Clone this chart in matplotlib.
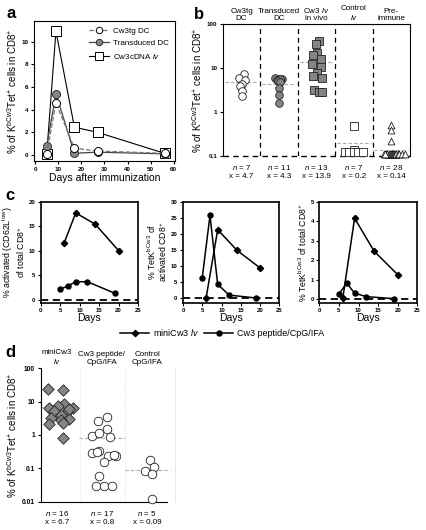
import matplotlib
matplotlib.use("Agg")
import matplotlib.pyplot as plt

plt.rcParams['font.family'] = ['Liberation Sans', 'DejaVu Sans']
plt.rcParams['mathtext.fontset'] = 'custom'
plt.rcParams['mathtext.rm'] = 'Liberation Sans'
plt.rcParams['mathtext.it'] = 'Liberation Sans:italic'
plt.rcParams['mathtext.bf'] = 'Liberation Sans:bold'

# ---- panel a: kinetics after immunization ----
days_a = [5, 9, 17, 27, 56]
cw3tg_dc = [0.1, 4.6, 0.6, 0.35, 0.15]
transduced_dc = [0.8, 5.4, 0.15, 0.25, 0.1]
cw3cdna_lv = [0.05, 10.9, 2.45, 2.0, 0.15]

# ---- panel b: groups ----
b_groups = ["Cw3tg\nDC", "Transduced\nDC", "Cw3 $\\mathit{lv}$\nin vivo", "Control\n$\\mathit{lv}$", "Pre-\nimmune"]
b_n = [7, 11, 13, 7, 28]
b_mean = [4.7, 4.3, 13.9, 0.2, 0.14]
b_cw3tg = [7.3, 5.8, 5.2, 4.3, 3.8, 3.05, 2.35]
b_transduced = [5.8, 5.7, 5.6, 5.3, 5.2, 5.5, 5.0, 4.9, 3.45, 2.47, 1.6]
b_cw3lv = [41.8, 35.1, 21.9, 19.8, 16.0, 10.4, 12.3, 7.7, 6.5, 5.84, 3.21, 2.8, 2.8]
b_control = [0.49, 0.14, 0.12, 0.12, 0.12, 0.12, 0.12]
b_preimmune = [0.5, 0.39, 0.22, 0.11, 0.11, 0.11, 0.11, 0.11, 0.11, 0.11, 0.11, 0.11,
               0.11, 0.11, 0.11, 0.11, 0.11, 0.11, 0.11, 0.11, 0.11, 0.11, 0.11, 0.11,
               0.11, 0.11, 0.11, 0.11]

# ---- panel c: time courses ----
days_lv = [6, 9, 14, 20]
days_pep = [5, 7, 9, 12, 19]
c1_lv = [11.5, 17.7, 15.4, 10.0]
c1_pep = [2.1, 2.8, 3.65, 3.65, 1.3]
c2_lv = [0.1, 21.3, 14.9, 9.4]
c2_pep = [6.4, 25.7, 4.3, 0.95, 0.05]
c3_lv = [0.05, 4.15, 2.45, 1.25]
c3_pep = [0.25, 0.82, 0.3, 0.12, 0.02]

# ---- panel d ----
d_groups = ["miniCw3\n$\\mathit{lv}$", "Cw3 peptide/\nCpG/IFA", "Control\nCpG/IFA"]
d_n = [16, 17, 5]
d_mean = [6.7, 0.8, 0.09]
d_minicw3 = [24, 23, 8.5, 7.5, 6.3, 6.6, 5.4, 5.0, 4.0, 3.2, 3.0, 2.9, 2.2, 2.3, 0.8, 6.0]
d_peptide = [2.7, 3.4, 1.5, 0.93, 1.12, 0.89, 0.28, 0.33, 0.24, 0.24, 0.16, 0.059,
             0.029, 0.029, 0.029, 0.25, 0.3]
d_control = [0.178, 0.112, 0.083, 0.068, 0.012]

# horizontal jitter (layout only)
jit_b = [
    [0.07, -0.06, 0.09, 0.0, -0.05, 0.0, 0.0],
    [-0.12, 0.0, 0.08, 0.02, -0.05, 0.04, -0.02, 0.03, 0.0, 0.0, 0.0],
    [0.07, 0.0, 0.02, -0.09, 0.13, 0.12, -0.12, 0.02, -0.09, 0.15, -0.07, 0.06, 0.15],
    [0.0, 0.0, -0.24, -0.12, 0.0, 0.12, 0.24],
    [0.0, 0.0, 0.0, -0.2, -0.14, -0.1, -0.07, -0.05, -0.03, -0.02, 0.0, 0.01, 0.02,
     0.03, 0.04, 0.05, 0.06, 0.07, 0.08, 0.09, 0.1, 0.12, 0.14, 0.18, 0.22, 0.3, 0.36, -0.17],
]
jit_d = [
    [-0.2, 0.13, 0.16, 0.02, -0.18, 0.35, -0.06, 0.22, 0.09, -0.13, 0.26, 0.09, -0.18, 0.13, 0.13, 0.26],
    [-0.09, 0.12, 0.12, -0.22, -0.06, 0.18, -0.22, -0.06, 0.13, 0.31, 0.04, -0.06, -0.13, 0.04, 0.22, 0.27, -0.12],
    [0.07, 0.16, -0.04, 0.12, 0.12],
]

GRAY = '#858585'
fig = plt.figure(figsize=(4.27, 5.30), dpi=100)
ylab = r"% of K$^{\mathrm{bCw3}}$Tet$^{+}$ cells in CD8$^{+}$"


def small_ticks(ax, size=4.5):
    ax.tick_params(labelsize=size, length=2.5, width=0.8, pad=1.5)
    for lab in ax.get_xticklabels() + ax.get_yticklabels():
        lab.set_fontweight('bold')


# ---------------- a ----------------
ax = fig.add_axes([0.0796, 0.6962, 0.330, 0.264])
ax.plot(days_a, cw3cdna_lv, '-', color='k', lw=0.8, marker='s', ms=6.5, mfc='white',
        mec='k', mew=0.7, label='Cw3cDNA $\\mathit{lv}$', zorder=2)
ax.plot(days_a, transduced_dc, '-', color='#444444', lw=0.9, marker='o', ms=5.8,
        mfc=GRAY, mec='#333333', mew=0.7, label='Transduced DC', zorder=3)
ax.plot(days_a, cw3tg_dc, '--', color='#777777', lw=0.9, marker='o', ms=5.8,
        mfc='white', mec='k', mew=0.7, label='Cw3tg DC', zorder=4)
ax.set_xlim(-0.5, 60.5)
ax.set_ylim(-0.53, 11.8)
ax.set_xticks(range(0, 61, 10))
ax.set_yticks(range(0, 11, 2))
ax.set_xlabel('Days after immunization', fontsize=7.5, labelpad=1)
ax.set_ylabel(ylab, fontsize=7, labelpad=2)
small_ticks(ax)
h, l = ax.get_legend_handles_labels()
ax.legend(h[::-1], l[::-1], loc='upper right', frameon=False, fontsize=5.8,
          handlelength=2.4, borderaxespad=0.4, labelspacing=0.55, handletextpad=0.5,
          markerscale=0.8)
fig.text(0.015, 0.975, 'a', fontsize=12, fontweight='bold', va='center')

# ---------------- b ----------------
ax = fig.add_axes([0.522, 0.7057, 0.438, 0.249])
ax.set_yscale('log')
ax.set_ylim(0.1, 100)
ax.set_xlim(-0.5, 4.5)
b_data = [b_cw3tg, b_transduced, b_cw3lv, b_control, b_preimmune]
b_style = [dict(marker='o', fc='white', s=30),
           dict(marker='o', fc=GRAY, s=30),
           dict(marker='s', fc=GRAY, s=34),
           dict(marker='s', fc='white', s=30),
           dict(marker='^', fc='white', s=24)]
for i, vals in enumerate(b_data):
    xs = [i + j for j in jit_b[i]]
    st = b_style[i]
    ax.scatter(xs, vals, marker=st['marker'], s=st['s'], facecolor=st['fc'],
               edgecolor='#222222', linewidth=0.6, zorder=3, clip_on=False)
    ax.plot([i - 0.45, i + 0.45], [b_mean[i], b_mean[i]], color='#aaaaaa', lw=0.8,
            dashes=(3, 2), zorder=1)
    ax.text(i, 1.015, b_groups[i], transform=ax.get_xaxis_transform(), ha='center',
            va='bottom', fontsize=5.8, linespacing=1.1)
    ax.text(i, -0.05, '$\\mathit{n}$ = %d\nx = %s' % (b_n[i], b_mean[i]),
            transform=ax.get_xaxis_transform(), ha='center', va='top', fontsize=5.8,
            linespacing=1.25)
for s in [0.5, 1.5, 2.5, 3.5]:
    ax.axvline(s, color='k', lw=0.9, dashes=(4, 3), zorder=0)
ax.axhline(0.1, color='k', lw=1.0, dashes=(4, 3), zorder=2, clip_on=False)
ax.spines['bottom'].set_visible(False)
ax.set_xticks([])
ax.set_yticks([0.1, 1, 10, 100])
ax.set_yticklabels(['0.1', '1', '10', '100'])
ax.minorticks_off()
ax.set_ylabel(ylab, fontsize=7, labelpad=2)
small_ticks(ax)
fig.text(0.455, 0.972, 'b', fontsize=12, fontweight='bold', va='center')

# ---------------- c ----------------
c_specs = [
    ([0.0953, 0.4289, 0.228, 0.1906], c1_lv, c1_pep, (-0.63, 20), range(0, 21, 5),
     "% activated (CD62L$^{\\mathrm{low}}$)\nof total CD8$^{+}$"),
    ([0.4286, 0.4289, 0.2255, 0.1906], c2_lv, c2_pep, (-1.4, 30), range(0, 31, 5),
     "% TetK$^{\\mathrm{bCw3}}$ of\nactivated CD8$^{+}$"),
    ([0.7478, 0.4289, 0.2295, 0.1906], c3_lv, c3_pep, (-0.19, 5), range(0, 6, 1),
     "% TetK$^{\\mathrm{bCw3}}$ of total CD8$^{+}$"),
]
for rect, lv, pep, yl, yt, lab in c_specs:
    ax = fig.add_axes(rect)
    ax.plot(days_lv, lv, '-', color='k', lw=1.1, marker='D', ms=3.2, mfc='k', mec='k',
            label='miniCw3 $\\mathit{lv}$')
    ax.plot(days_pep, pep, '-', color='k', lw=1.1, marker='o', ms=3.6, mfc='k', mec='k',
            label='Cw3 peptide/CpG/IFA')
    ax.axhline(0, color='k', lw=1.3, dashes=(4, 2.5), zorder=1)
    ax.set_xlim(0, 25)
    ax.set_ylim(*yl)
    ax.set_xticks(range(0, 26, 5))
    ax.set_yticks(list(yt))
    for sp in ax.spines.values():
        sp.set_linewidth(1.2)
    ax.set_xlabel('Days', fontsize=7.5, labelpad=0)
    ax.set_ylabel(lab, fontsize=6.3, labelpad=1, linespacing=1.0)
    small_ticks(ax, 4.3)
    handles, labels = ax.get_legend_handles_labels()
fig.legend(handles, labels, loc='center', bbox_to_anchor=(0.52, 0.373), ncol=2,
           frameon=False, fontsize=6.5, handlelength=3.2, columnspacing=0.6,
           handletextpad=0.4)
fig.text(0.012, 0.632, 'c', fontsize=12, fontweight='bold', va='center')

# ---------------- d ----------------
ax = fig.add_axes([0.0953, 0.0534, 0.3145, 0.2517])
ax.set_yscale('log')
ax.set_ylim(0.01, 100)
ax.set_xlim(-0.36, 2.62)
d_data = [d_minicw3, d_peptide, d_control]
d_style = [dict(marker='D', fc=GRAY, s=34), dict(marker='o', fc='white', s=38),
           dict(marker='o', fc='white', s=38)]
for i, vals in enumerate(d_data):
    xs = [i + j for j in jit_d[i]]
    st = d_style[i]
    ax.scatter(xs, vals, marker=st['marker'], s=st['s'], facecolor=st['fc'],
               edgecolor='#222222', linewidth=0.6, zorder=3, clip_on=False)
    ax.plot([i - 0.5, i + 0.5], [d_mean[i], d_mean[i]], color='#aaaaaa', lw=0.8,
            dashes=(3, 2), zorder=1)
    ax.text(i, 1.02, d_groups[i], transform=ax.get_xaxis_transform(), ha='center',
            va='bottom', fontsize=5.8, linespacing=1.1)
    ax.text(i, -0.055, '$\\mathit{n}$ = %d\nx = %s' % (d_n[i], d_mean[i]),
            transform=ax.get_xaxis_transform(), ha='center', va='top', fontsize=5.8,
            linespacing=1.25)
for s in [0.52, 1.52]:
    ax.axvline(s, color='#dddddd', lw=0.6, ls=':', zorder=0)
ax.spines['top'].set_visible(False)
ax.spines['right'].set_color('#e3e3e3')
ax.spines['right'].set_linewidth(0.6)
ax.spines['bottom'].set_bounds(-0.36, 2.44)
ax.set_xticks([])
ax.set_yticks([0.01, 0.1, 1, 10, 100])
ax.set_yticklabels(['0.01', '0.1', '1', '10', '100'])
ax.minorticks_off()
ax.set_ylabel(ylab, fontsize=7, labelpad=2)
small_ticks(ax, 4.8)
fig.text(0.012, 0.334, 'd', fontsize=12, fontweight='bold', va='center')

fig.savefig('out.png', dpi=100)
